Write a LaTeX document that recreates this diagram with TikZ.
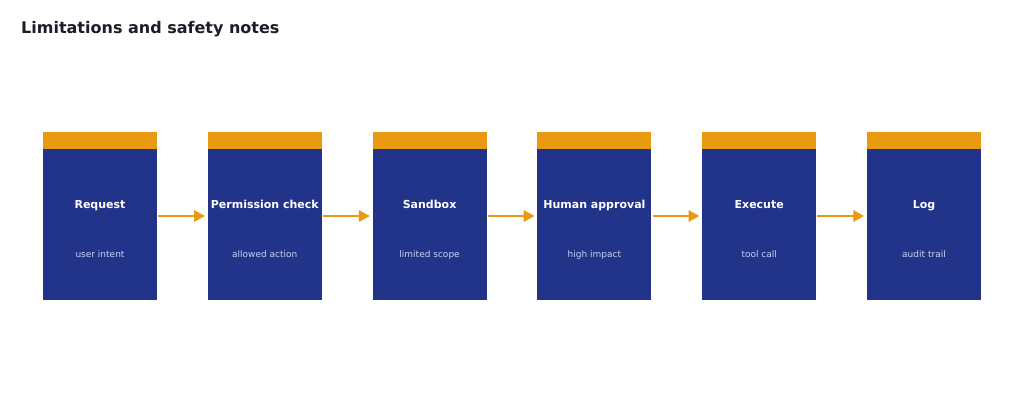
\documentclass[tikz,border=0pt]{standalone}
\usepackage{fontspec}
\setmainfont{DejaVu Sans}
\usetikzlibrary{arrows.meta}
\definecolor{barorange}{HTML}{E99A10}
\definecolor{boxblue}{HTML}{22338A}
\definecolor{subtext}{HTML}{C9D2F4}
\definecolor{titletext}{HTML}{1B1E28}
\tikzset{
  body/.style={rectangle, fill=boxblue, draw=none, minimum width=114pt, minimum height=151pt, inner sep=0pt},
  bar/.style={rectangle, fill=barorange, draw=none, minimum width=114pt, minimum height=17pt, inner sep=0pt},
  head/.style={anchor=base, font=\bfseries\fontsize{11}{13}\selectfont, text=white, inner sep=0pt},
  sub/.style={anchor=base, font=\fontsize{9}{11}\selectfont, text=subtext, inner sep=0pt},
  flow/.style={draw=barorange, line width=2.7pt, -{Triangle[length=11pt,width=11pt]}, shorten <=1pt, shorten >=2.5pt}
}
\begin{document}
\begin{tikzpicture}[x=1pt,y=-1pt]
\useasboundingbox (0,0) rectangle (1024,405);
\fill[white] (0,0) rectangle (1024,405);
\node[anchor=base west, font=\bfseries\fontsize{16}{19}\selectfont, text=titletext, inner sep=0pt] (title) at (21,33.5) {Limitations and safety notes};
\foreach \i/\h/\s in {0/Request/user intent,1/Permission check/allowed action,2/Sandbox/limited scope,3/Human approval/high impact,4/Execute/tool call,5/Log/audit trail}{
  \pgfmathsetmacro{\cx}{100+164.8*\i}
  \node[body] (b\i) at (\cx,224.5) {};
  \node[bar] (t\i) at (\cx,140.5) {};
  \node[head] (h\i) at (\cx,208) {\h};
  \node[sub] (s\i) at (\cx,257.5) {\s};
}
\foreach \i [evaluate=\i as \j using int(\i+1)] in {0,...,4}{
  \draw[flow] ([yshift=8.5pt]b\i.east) -- ([yshift=8.5pt]b\j.west);
}
\end{tikzpicture}
\end{document}
